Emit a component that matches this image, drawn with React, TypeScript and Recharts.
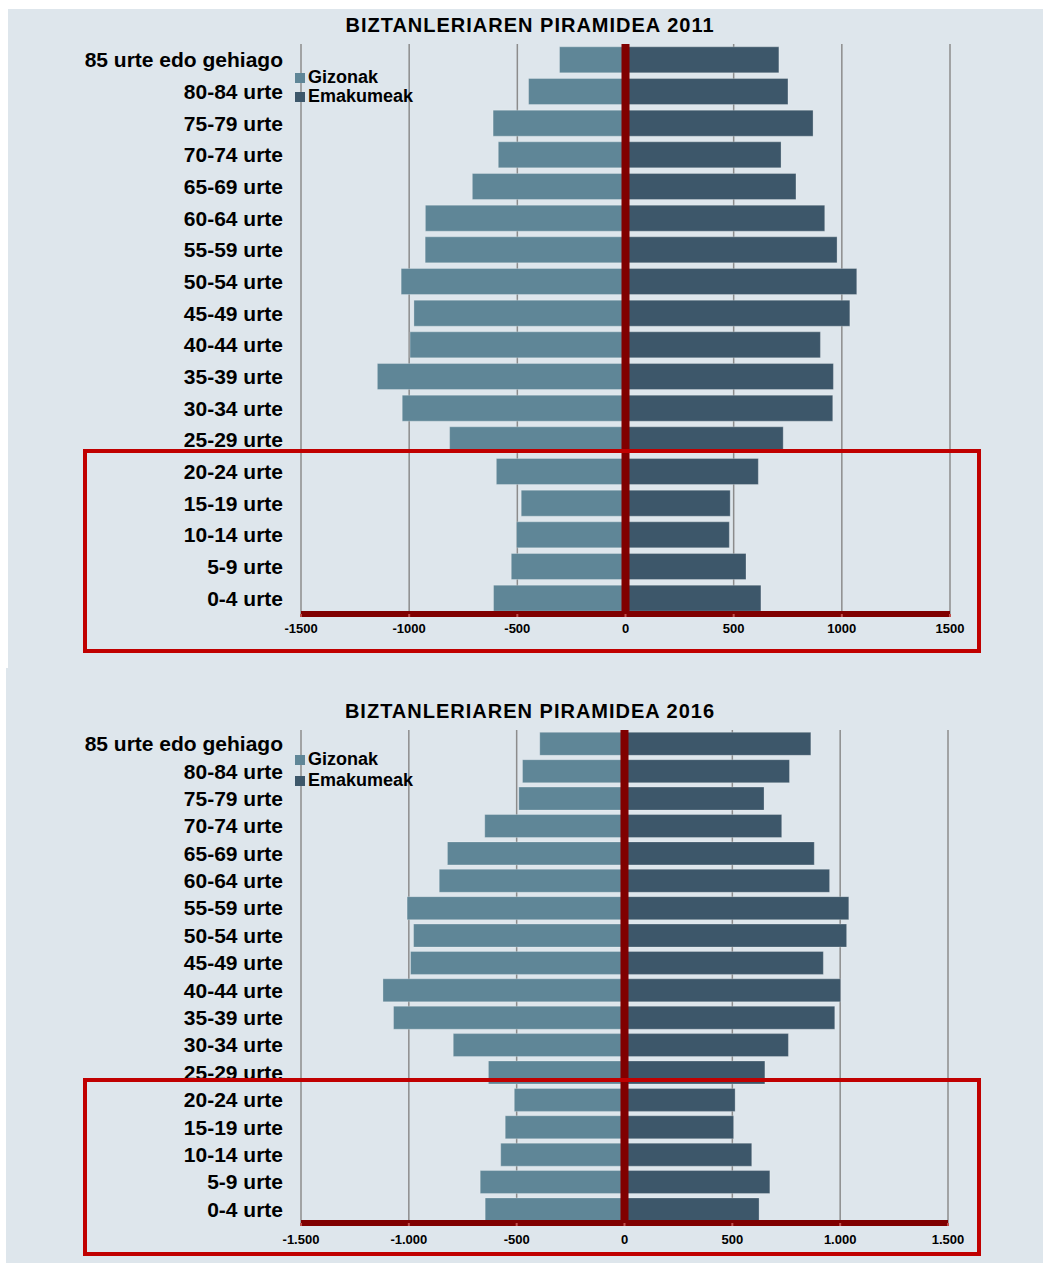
import React from "react";
import { BarChart, Bar, XAxis, YAxis, CartesianGrid, ReferenceLine } from "recharts";

const ages = [
  "85 urte edo gehiago",
  "80-84 urte",
  "75-79 urte",
  "70-74 urte",
  "65-69 urte",
  "60-64 urte",
  "55-59 urte",
  "50-54 urte",
  "45-49 urte",
  "40-44 urte",
  "35-39 urte",
  "30-34 urte",
  "25-29 urte",
  "20-24 urte",
  "15-19 urte",
  "10-14 urte",
  "5-9 urte",
  "0-4 urte",
];

const men2011 = [305, 448, 612, 588, 708, 925, 926, 1037, 978, 996, 1147, 1032, 813, 597, 482, 504, 528, 610];
const women2011 = [709, 751, 867, 719, 788, 921, 978, 1069, 1037, 901, 961, 958, 729, 614, 484, 480, 557, 626];

const men2016 = [393, 473, 490, 648, 821, 859, 1008, 978, 992, 1120, 1071, 794, 631, 511, 553, 574, 669, 646];
const women2016 = [864, 765, 647, 729, 880, 951, 1040, 1030, 922, 1002, 975, 760, 651, 513, 506, 590, 674, 624];

const xTicks = [-1500, -1000, -500, 0, 500, 1000, 1500];

const seriesNames = ["Gizonak", "Emakumeak"];
const MEN_COLOR = "#5f8697";
const WOMEN_COLOR = "#3d576a";
const BG = "#dee6ec";
const DARK_RED = "#800000";
const BOX_RED = "#c00000";
const FONT = "'Liberation Sans', Arial, Helvetica, sans-serif";

const build = (men: number[], women: number[]) =>
  ages.map((age, i) => ({ age, men: -men[i], women: women[i] }));

const data2011 = build(men2011, women2011);
const data2016 = build(men2016, women2016);

const fmtPlain = (v: number) => String(v);
const fmtDots = (v: number) => {
  const s = String(Math.abs(v));
  const withDots = s.length > 3 ? s.slice(0, s.length - 3) + "." + s.slice(s.length - 3) : s;
  return (v < 0 ? "-" : "") + withDots;
};

type PyramidProps = {
  data: { age: string; men: number; women: number }[];
  top: number;
  height: number;
  marginTop: number;
  marginBottom: number;
  marginRight: number;
  fmt: (v: number) => string;
  tickMargin: number;
  gap: string;
};

function Pyramid(p: PyramidProps) {
  return (
    <div style={{ position: "absolute", left: 0, top: p.top }}>
      <BarChart
        width={1043}
        height={p.height}
        data={p.data}
        layout="vertical"
        stackOffset="sign"
        barCategoryGap={p.gap}
        margin={{ top: p.marginTop, right: p.marginRight, bottom: p.marginBottom, left: 0 }}
      >
        <CartesianGrid horizontal={false} stroke="#8c8c8c" strokeWidth={1.5} />
        <XAxis
          type="number"
          domain={[-1500, 1500]}
          ticks={xTicks}
          allowDataOverflow
          height={30}
          tickFormatter={p.fmt}
          axisLine={{ stroke: DARK_RED, strokeWidth: 6 }}
          tickLine={{ stroke: "#c0504d", strokeWidth: 2 }}
          tickSize={3}
          tickMargin={p.tickMargin}
          tick={{ fill: "#000", fontSize: 13, fontWeight: 700, fontFamily: FONT }}
        />
        <YAxis
          type="category"
          dataKey="age"
          width={301}
          interval={0}
          axisLine={false}
          tickLine={false}
          tickSize={0}
          tickMargin={18}
          tick={{ fill: "#000", fontSize: 21, fontWeight: 700, fontFamily: FONT }}
        />
        <Bar
          dataKey="men"
          name={seriesNames[0]}
          stackId="s"
          fill={MEN_COLOR}
          stroke="rgba(255,255,255,0.25)"
          strokeWidth={1}
          isAnimationActive={false}
        />
        <Bar
          dataKey="women"
          name={seriesNames[1]}
          stackId="s"
          fill={WOMEN_COLOR}
          stroke="rgba(255,255,255,0.25)"
          strokeWidth={1}
          isAnimationActive={false}
        />
        <ReferenceLine x={0} stroke={DARK_RED} strokeWidth={8} />
      </BarChart>
    </div>
  );
}

function LegendBox({ left, top, gap }: { left: number; top: number; gap: number }) {
  const colors = [MEN_COLOR, WOMEN_COLOR];
  return (
    <div style={{ position: "absolute", left, top, fontFamily: FONT, fontWeight: 700, fontSize: 18, color: "#000" }}>
      {seriesNames.map((n, i) => (
        <div key={n} style={{ display: "flex", alignItems: "center", height: gap, lineHeight: gap + "px" }}>
          <span style={{ display: "inline-block", width: 10, height: 10, background: colors[i], marginRight: 3 }} />
          <span>{n}</span>
        </div>
      ))}
    </div>
  );
}

function Title({ text, top }: { text: string; top: number }) {
  return (
    <div
      style={{
        position: "absolute",
        left: 230,
        width: 600,
        top,
        textAlign: "center",
        fontFamily: FONT,
        fontWeight: 700,
        fontSize: 20,
        letterSpacing: 1,
        color: "#000",
        lineHeight: "24px",
      }}
    >
      {text}
    </div>
  );
}

function Box({ top, height }: { top: number; height: number }) {
  return (
    <div
      style={{
        position: "absolute",
        left: 83,
        top,
        width: 898,
        height,
        boxSizing: "border-box",
        border: `4px solid ${BOX_RED}`,
        pointerEvents: "none",
      }}
    />
  );
}

export default function App() {
  return (
    <div style={{ position: "absolute", left: 0, top: 0, width: 1043, height: 1263, background: "#fff", overflow: "hidden" }}>
      <div style={{ position: "absolute", left: 8, top: 9, width: 1035, height: 659, background: BG }} />
      <div style={{ position: "absolute", left: 6, top: 668, width: 1037, height: 595, background: BG }} />

      <Title text="BIZTANLERIAREN PIRAMIDEA 2011" top={13} />
      <Pyramid
        data={data2011}
        top={0}
        height={668}
        marginTop={44}
        marginBottom={24}
        marginRight={93}
        fmt={fmtPlain}
        tickMargin={7}
        gap="9%"
      />
      <LegendBox left={295} top={68} gap={19} />
      <Box top={449} height={204} />

      <Title text="BIZTANLERIAREN PIRAMIDEA 2016" top={699} />
      <Pyramid
        data={data2016}
        top={668}
        height={595}
        marginTop={62}
        marginBottom={10}
        marginRight={95}
        fmt={fmtDots}
        tickMargin={9}
        gap="8.5%"
      />
      <LegendBox left={295} top={749} gap={21} />
      <Box top={1078} height={178} />
    </div>
  );
}
